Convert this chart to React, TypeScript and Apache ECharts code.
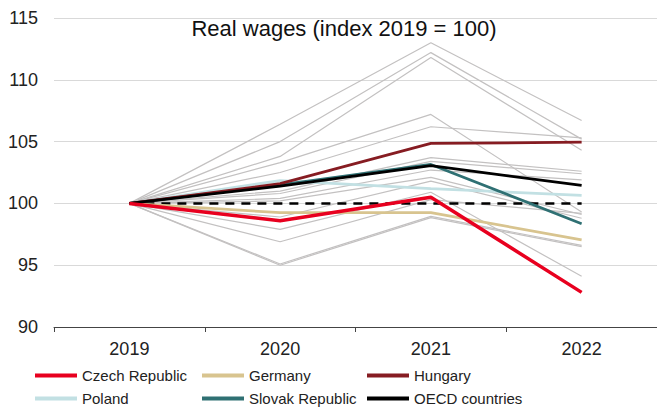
import React, { useEffect, useRef } from "react";
import * as echarts from "echarts";

const years = ["2019", "2020", "2021", "2022"];

const czech = [100, 98.6, 100.5, 92.8];
const germany = [100, 99.25, 99.25, 97.05];
const hungary = [100, 101.6, 104.85, 104.95];
const poland = [100, 101.85, 101.2, 100.65];
const slovak = [100, 101.5, 103.15, 98.35];
const oecd = [100, 101.4, 103.05, 101.45];
const baseline = [100, 100, 100, 100];

const others: number[][] = [
  [100, 106.4, 113.0, 106.7],
  [100, 105.0, 112.2, 105.2],
  [100, 103.8, 111.8, 104.3],
  [100, 103.3, 107.2, 99.3],
  [100, 102.5, 106.2, 105.3],
  [100, 101.0, 103.7, 102.6],
  [100, 100.8, 103.4, 102.4],
  [100, 100.4, 102.7, 101.9],
  [100, 100.2, 102.1, 99.1],
  [100, 98.9, 101.8, 98.8],
  [100, 97.9, 100.9, 94.1],
  [100, 96.9, 100.3, 99.2],
  [100, 95.1, 98.95, 96.6],
  [100, 95.0, 98.85, 96.5],
];

const legendCells = [
  { name: "Czech Republic", left: 35, top: 368 },
  { name: "Germany", left: 202, top: 368 },
  { name: "Hungary", left: 367, top: 368 },
  { name: "Poland", left: 35, top: 391 },
  { name: "Slovak Republic", left: 202, top: 391 },
  { name: "OECD countries", left: 367, top: 391 },
];

const FONT = "'Liberation Sans', Arial, sans-serif";

export default function App() {
  const ref = useRef<HTMLDivElement>(null);
  useEffect(() => {
    if (!ref.current) return;
    const chart = echarts.init(ref.current, null, { renderer: "svg" });
    const named = [
      { name: "Poland", data: poland, color: "#c2e0e3" },
      { name: "Germany", data: germany, color: "#d8c48f" },
      { name: "Slovak Republic", data: slovak, color: "#2f7073" },
      { name: "Hungary", data: hungary, color: "#861c22" },
      { name: "OECD countries", data: oecd, color: "#000000" },
      { name: "Czech Republic", data: czech, color: "#e8001f" },
    ];
    const series: any[] = [];
    others.forEach((d, i) => {
      series.push({
        name: "other" + i,
        type: "line",
        data: d,
        symbol: "none",
        silent: true,
        lineStyle: { color: "#c3c1c1", width: 1.2 },
        z: 2,
      });
    });
    series.push({
      name: "baseline",
      type: "line",
      data: baseline,
      symbol: "none",
      lineStyle: { color: "#000", width: 2.5, type: [9, 7] },
      z: 3,
    });
    named.forEach((s, i) => {
      series.push({
        name: s.name,
        type: "line",
        data: s.data,
        symbol: "none",
        color: s.color,
        lineStyle: { color: s.color, width: s.name === "Czech Republic" ? 3.5 : 2.8 },
        z: 4 + i,
      });
    });
    const legends = legendCells.map((c) => ({
      left: c.left,
      top: c.top,
      padding: 0,
      itemWidth: 42,
      itemHeight: 4,
      itemGap: 0,
      icon: "rect",
      selectedMode: false,
      data: [c.name],
      textStyle: { fontSize: 15, color: "#222", fontFamily: FONT, padding: [0, 0, 0, 0] },
    }));
    chart.setOption({
      animation: false,
      grid: { left: 54, top: 18, width: 610, height: 309, containLabel: false },
      graphic: [
        {
          type: "text",
          x: 344,
          y: 28,
          style: {
            text: "Real wages (index 2019 = 100)",
            font: `22px ${FONT}`,
            fill: "#111",
            textAlign: "center",
            textVerticalAlign: "middle",
          },
        },
      ],
      legend: legends,
      xAxis: {
        type: "category",
        data: years,
        boundaryGap: true,
        axisLine: { lineStyle: { color: "#444", width: 1 } },
        axisTick: { show: true, length: 5, lineStyle: { color: "#444" } },
        axisLabel: { fontSize: 18, color: "#222", fontFamily: FONT, margin: 13 },
      },
      yAxis: {
        type: "value",
        min: 90,
        max: 115,
        interval: 5,
        axisLine: { show: false },
        axisTick: { show: false },
        splitLine: { lineStyle: { color: "#d9d9d9", width: 1 } },
        axisLabel: { fontSize: 18, color: "#222", fontFamily: FONT, margin: 16 },
      },
      series,
    });
    return () => chart.dispose();
  }, []);
  return <div ref={ref} style={{ width: 657, height: 408, position: "absolute", left: 0, top: 0 }} />;
}
